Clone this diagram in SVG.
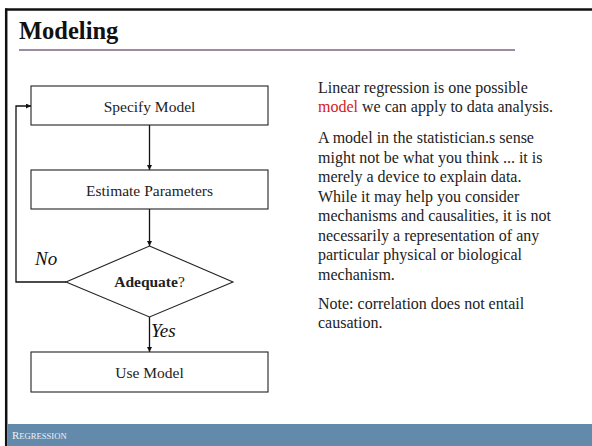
<svg xmlns="http://www.w3.org/2000/svg" width="592" height="446" viewBox="0 0 592 446">
<defs>
<style>
.box{fill:#fff;stroke:#222;stroke-width:1.1}
.lbl{font-family:"Liberation Serif",serif;font-size:15.5px;fill:#222;text-anchor:middle}
.body{font-family:"Liberation Serif",serif;font-size:16px;fill:#222}
.edge{fill:none;stroke:#111;stroke-width:1.3}
.it{font-family:"Liberation Serif",serif;font-style:italic;font-size:19px;fill:#111}
</style>
<marker id="ah" viewBox="0 0 10 10" refX="10" refY="5" markerWidth="5" markerHeight="5" orient="auto" markerUnits="userSpaceOnUse">
<path d="M0,0 L10,5 L0,10 z" fill="#111"/>
</marker>
</defs>
<rect x="0" y="0" width="592" height="446" fill="#fff"/>
<g id="frame">
<line x1="5" y1="9.5" x2="592" y2="9.5" stroke="#111" stroke-width="2.5"/>
<line x1="6.2" y1="8.5" x2="6.2" y2="446" stroke="#111" stroke-width="2.5"/>
<rect x="7.5" y="424" width="584.5" height="22" fill="#6389ab"/>
<text x="12" y="439" font-family="Liberation Serif,serif" font-size="11" fill="#eef2f6">R<tspan font-size="8.6">EGRESSION</tspan></text>
</g>
<g id="title">
<text x="19" y="39" font-family="Liberation Serif,serif" font-size="24.5" font-weight="bold" fill="#111">Modeling</text>
<line x1="19" y1="50" x2="515" y2="50" stroke="#9d8ba6" stroke-width="2"/>
</g>
<g id="connectors">
<line class="edge" x1="149.5" y1="125" x2="149.5" y2="170" marker-end="url(#ah)"/>
<line class="edge" x1="149.5" y1="209" x2="149.5" y2="246" marker-end="url(#ah)"/>
<line class="edge" x1="149.5" y1="317" x2="149.5" y2="352" marker-end="url(#ah)"/>
<polyline class="edge" points="66,282 16,282 16,106 31,106" marker-end="url(#ah)"/>
<text class="it" x="35" y="265">No</text>
<text class="it" x="151" y="337">Yes</text>
</g>
<g id="specify">
<rect class="box" x="31" y="86" width="237" height="39"/>
<text class="lbl" x="149.5" y="112">Specify Model</text>
</g>
<g id="estimate">
<rect class="box" x="31" y="170" width="237" height="39"/>
<text class="lbl" x="149.5" y="195.5">Estimate Parameters</text>
</g>
<g id="adequate">
<polygon class="box" points="149.5,246 233,282 149.5,317 66,282"/>
<text class="lbl" x="149.5" y="287" font-size="15"><tspan font-weight="bold">Adequate</tspan>?</text>
</g>
<g id="use">
<rect class="box" x="31" y="352" width="237" height="40"/>
<text class="lbl" x="149.5" y="378">Use Model</text>
</g>
<g id="notes" class="body">
<text x="318" y="93">Linear regression is one possible</text>
<text x="318" y="112"><tspan fill="#d42020">model</tspan> we can apply to data analysis.</text>
<text x="318" y="143">A model in the statistician.s sense</text>
<text x="318" y="162.5">might not be what you think ... it is</text>
<text x="318" y="182">merely a device to explain data.</text>
<text x="318" y="201.5">While it may help you consider</text>
<text x="318" y="221">mechanisms and causalities, it is not</text>
<text x="318" y="240.5">necessarily a representation of any</text>
<text x="318" y="260">particular physical or biological</text>
<text x="318" y="279.5">mechanism.</text>
<text x="318" y="309">Note: correlation does not entail</text>
<text x="318" y="328">causation.</text>
</g>
</svg>
